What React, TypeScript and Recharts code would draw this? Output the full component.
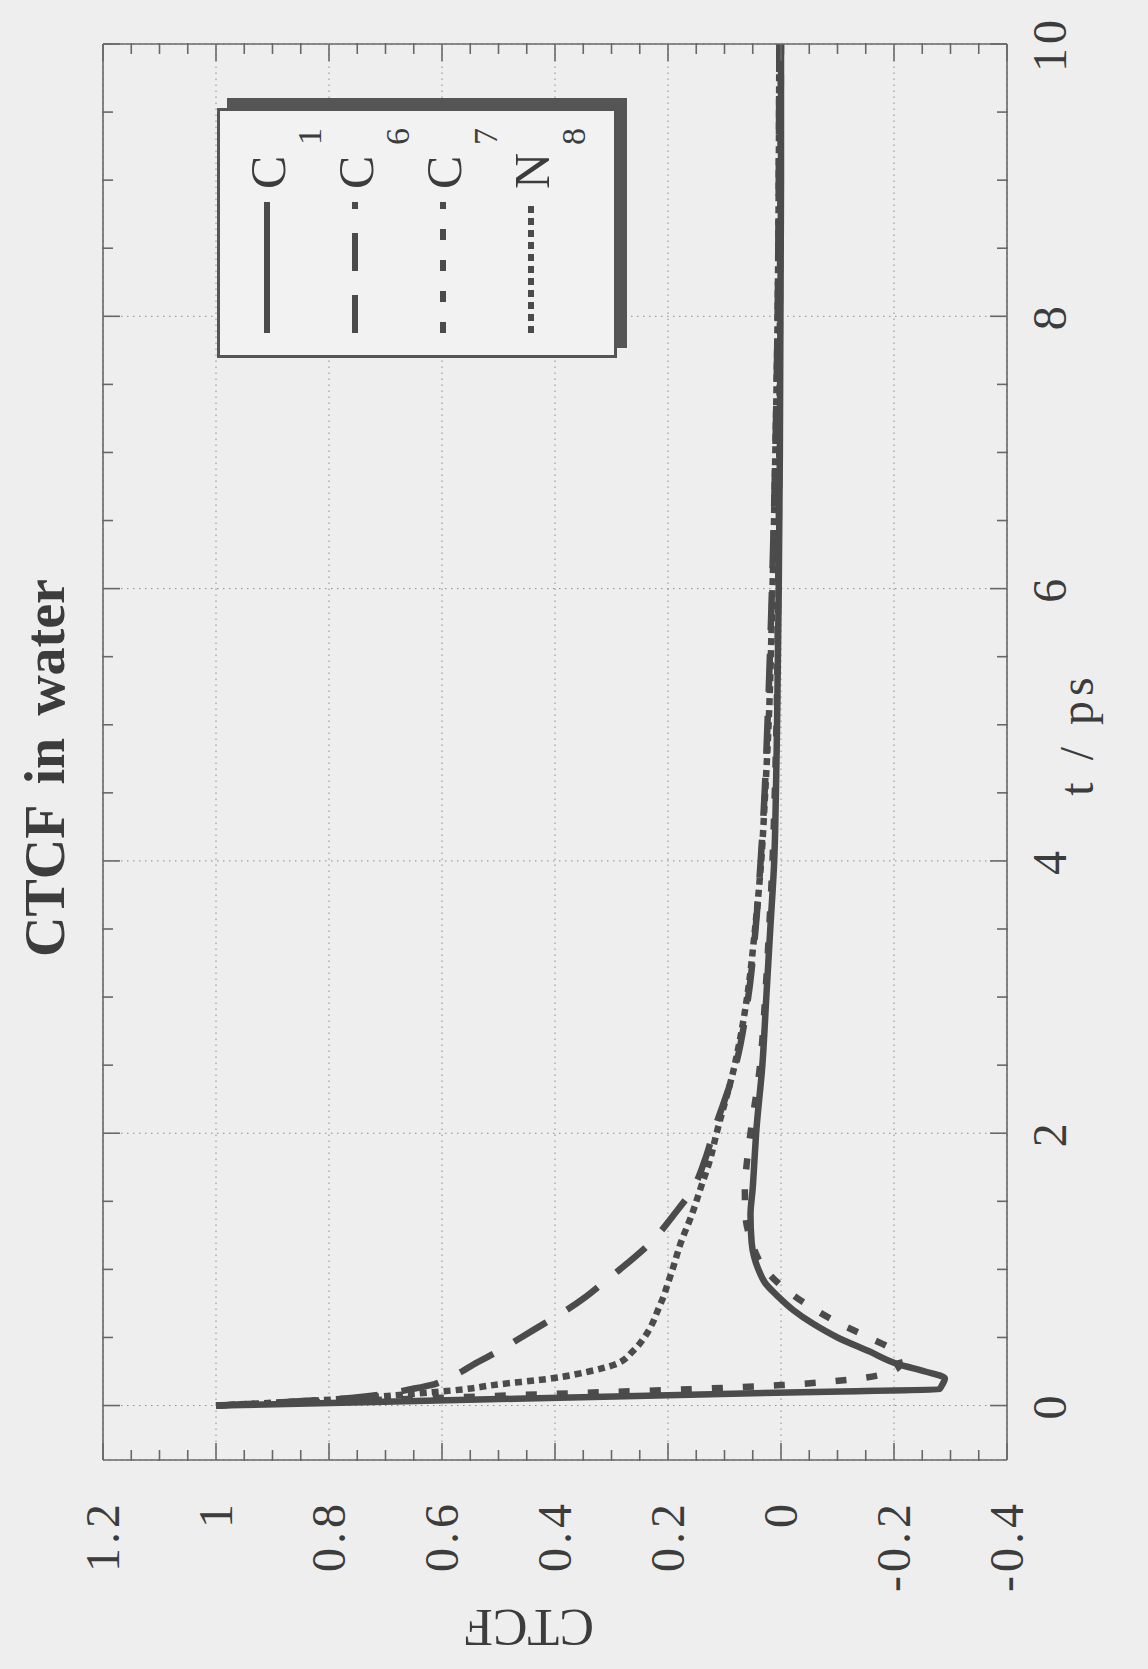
import { CartesianGrid, Legend, Line, LineChart, XAxis, YAxis } from 'recharts'

// correlation time samples (ps)
const times = [0, 0.05, 0.1, 0.12, 0.15, 0.2, 0.25, 0.3, 0.4, 0.5, 0.6, 0.7, 0.8, 0.9, 1.0, 1.2, 1.4, 1.6, 1.8, 2.0, 2.5, 3, 3.5, 4, 4.5, 5, 6, 7, 8, 9, 10]

const c1 = [1, 0.47, -0.06, -0.28, -0.285, -0.29, -0.255, -0.21, -0.155, -0.1, -0.057, -0.022, 0.005, 0.028, 0.04, 0.052, 0.054, 0.05, 0.047, 0.044, 0.033, 0.026, 0.019, 0.012, 0.009, 0.007, 0.004, 0.002, 0.001, 0, 0]
const c6 = [1, 0.78, 0.68, 0.655, 0.62, 0.59, 0.565, 0.545, 0.5, 0.46, 0.42, 0.38, 0.345, 0.315, 0.285, 0.23, 0.19, 0.155, 0.135, 0.12, 0.08, 0.058, 0.045, 0.036, 0.029, 0.024, 0.016, 0.01, 0.006, 0.004, 0.003]
const c7 = [1, 0.65, 0.3, 0.16, 0.0, -0.14, -0.195, -0.21, -0.2, -0.155, -0.105, -0.062, -0.025, 0.005, 0.028, 0.052, 0.063, 0.064, 0.06, 0.054, 0.037, 0.028, 0.021, 0.015, 0.011, 0.008, 0.005, 0.003, 0.002, 0.001, 0]
const n8 = [1, 0.77, 0.61, 0.56, 0.51, 0.405, 0.34, 0.295, 0.262, 0.242, 0.228, 0.218, 0.208, 0.2, 0.192, 0.177, 0.158, 0.142, 0.126, 0.114, 0.082, 0.06, 0.046, 0.035, 0.028, 0.022, 0.015, 0.01, 0.006, 0.004, 0.003]

const tMajorTicks = [0, 2, 4, 6, 8, 10]
const tMinorTicks = [0.5, 1, 1.5, 2.5, 3, 3.5, 4.5, 5, 5.5, 6.5, 7, 7.5, 8.5, 9, 9.5]
const valueMajorTicks = [-0.4, -0.2, 0, 0.2, 0.4, 0.6, 0.8, 1, 1.2]
const valueMinorTicks = [-0.35, -0.3, -0.25, -0.15, -0.1, -0.05, 0.05, 0.1, 0.15, 0.25, 0.3, 0.35, 0.45, 0.5, 0.55, 0.65, 0.7, 0.75, 0.85, 0.9, 0.95, 1.05, 1.1, 1.15]

const series = [
  { key: 'c1', letter: 'C', sub: '1', dash: undefined as string | undefined },
  { key: 'c6', letter: 'C', sub: '6', dash: '38 24' },
  { key: 'c7', letter: 'C', sub: '7', dash: '11 20' },
  { key: 'n8', letter: 'N', sub: '8', dash: '7 5' },
]

const chartData = times.map((t, i) => ({ t, c1: c1[i], c6: c6[i], c7: c7[i], n8: n8[i] }))

// the plot is laid out sideways and turned a quarter turn on the page
const W = 1669
const H = 1148
const INK = '#4b4b4b'
const FRAME = '#686868'
const TEXT = '#3c3c3c'
const FONT = '"Liberation Serif", "DejaVu Serif", serif'
const T_DOMAIN: [number, number] = [-0.4, 10]
const V_DOMAIN: [number, number] = [-0.4, 1.2]
const MAJOR = 17
const MINOR = 10

type Side = 'bottom' | 'top' | 'left' | 'right'

// tick marks point into the frame; labels only on bottom and left
function makeTick(side: Side, len: number, label: boolean) {
  return (props: any) => {
    const { x, y, payload } = props
    let x2 = x
    let y2 = y
    if (side === 'bottom') y2 = y - len
    if (side === 'top') y2 = y + len
    if (side === 'left') x2 = x + len
    if (side === 'right') x2 = x - len
    return (
      <g>
        <line x1={x} y1={y} x2={x2} y2={y2} stroke={FRAME} strokeWidth={1.6} />
        {label && side === 'bottom' && (
          <text x={x} y={y + 59} textAnchor="middle" fontSize={48} fill={TEXT} fontFamily="Liberation Serif" letterSpacing={4}>
            {payload.value}
          </text>
        )}
        {label && side === 'left' && (
          <text x={x - 40} y={y} dy="0.34em" textAnchor="end" fontSize={48} fill={TEXT} fontFamily="Liberation Serif" letterSpacing={4}>
            {payload.value}
          </text>
        )}
      </g>
    )
  }
}

function LegendBox() {
  return (
    <div
      style={{
        width: 250,
        height: 400,
        boxSizing: 'border-box',
        border: '3px solid #555',
        background: '#f2f2f2',
        boxShadow: '10px 10px 0 #555',
      }}
    >
      <svg width={244} height={394} fontFamily="Liberation Serif">
        {series.map((s, i) => {
          const y = 47 + i * 88
          return (
            <g key={s.key}>
              <line x1={22} x2={153} y1={y} y2={y} stroke={INK} strokeWidth={6} strokeDasharray={s.dash} />
              <text x={166} y={y + 18} fontSize={50} fill={TEXT}>
                {s.letter}
              </text>
              <text x={210} y={y + 54} fontSize={34} fill={TEXT}>
                {s.sub}
              </text>
            </g>
          )
        })}
      </svg>
    </div>
  )
}

const frameLine = { stroke: FRAME, strokeWidth: 1.6 }

export default function App() {
  return (
    <div style={{ position: 'absolute', left: 0, top: 0, width: 1148, height: 1669, background: '#eeeeee', overflow: 'hidden' }}>
      <div
        style={{
          position: 'absolute',
          left: 0,
          top: 0,
          width: W,
          height: H,
          transformOrigin: '0 0',
          transform: `translate(0px, ${W}px) rotate(-90deg)`,
          fontFamily: FONT,
        }}
      >
        <LineChart width={W} height={H} data={chartData} margin={{ top: 101, right: 42, bottom: 139, left: 207 }}>
          <CartesianGrid xAxisId="b" yAxisId="l" stroke="#8c8c8c" strokeDasharray="1.5 4.5" />

          <XAxis xAxisId="b" orientation="bottom" type="number" dataKey="t" domain={T_DOMAIN} allowDataOverflow
            height={1} ticks={tMajorTicks} interval={0} tickSize={0} tickMargin={0} tickLine={false}
            axisLine={frameLine} tick={makeTick('bottom', MAJOR, true)} />
          <XAxis xAxisId="bm" orientation="bottom" type="number" dataKey="t" domain={T_DOMAIN} allowDataOverflow
            height={1} ticks={tMinorTicks} interval={0} tickSize={0} tickMargin={0} tickLine={false}
            axisLine={false} tick={makeTick('bottom', MINOR + 1, false)} />
          <XAxis xAxisId="t" orientation="top" type="number" dataKey="t" domain={T_DOMAIN} allowDataOverflow
            height={1} ticks={tMajorTicks} interval={0} tickSize={0} tickMargin={0} tickLine={false}
            axisLine={frameLine} tick={makeTick('top', MAJOR, false)} />
          <XAxis xAxisId="tm" orientation="top" type="number" dataKey="t" domain={T_DOMAIN} allowDataOverflow
            height={1} ticks={tMinorTicks} interval={0} tickSize={0} tickMargin={0} tickLine={false}
            axisLine={false} tick={makeTick('top', MINOR + 1, false)} />

          <YAxis yAxisId="l" orientation="left" type="number" domain={V_DOMAIN} allowDataOverflow
            width={1} ticks={valueMajorTicks} interval={0} tickSize={0} tickMargin={0} tickLine={false}
            axisLine={frameLine} tick={makeTick('left', MAJOR, true)} />
          <YAxis yAxisId="lm" orientation="left" type="number" domain={V_DOMAIN} allowDataOverflow
            width={1} ticks={valueMinorTicks} interval={0} tickSize={0} tickMargin={0} tickLine={false}
            axisLine={false} tick={makeTick('left', MINOR + 1, false)} />
          <YAxis yAxisId="r" orientation="right" type="number" domain={V_DOMAIN} allowDataOverflow
            width={1} ticks={valueMajorTicks} interval={0} tickSize={0} tickMargin={0} tickLine={false}
            axisLine={frameLine} tick={makeTick('right', MAJOR, false)} />
          <YAxis yAxisId="rm" orientation="right" type="number" domain={V_DOMAIN} allowDataOverflow
            width={1} ticks={valueMinorTicks} interval={0} tickSize={0} tickMargin={0} tickLine={false}
            axisLine={false} tick={makeTick('right', MINOR + 1, false)} />

          <Legend
            layout="vertical"
            align="center"
            verticalAlign="middle"
            wrapperStyle={{ left: 1311, top: 217, width: 250, height: 400 }}
            content={() => <LegendBox />}
          />

          {[...series].reverse().map((s) => (
            <Line
              key={s.key}
              xAxisId="b"
              yAxisId="l"
              type="monotone"
              dataKey={s.key}
              stroke={INK}
              strokeWidth={6.5}
              strokeDasharray={s.dash}
              dot={false}
              activeDot={false}
              isAnimationActive={false}
            />
          ))}
        </LineChart>

        <svg width={W} height={H} fontFamily="Liberation Serif" style={{ position: 'absolute', left: 0, top: 0, pointerEvents: 'none' }}>
          <text x={901} y={64} textAnchor="middle" fontSize={56} fontWeight="bold" fill={TEXT} wordSpacing={8}>
            CTCF in water
          </text>
          <text x={935} y={1093} textAnchor="middle" fontSize={48} fill={TEXT} letterSpacing={5}>
            t / ps
          </text>
          <text transform="translate(59,529) rotate(-90)" textAnchor="middle" fontSize={52} fill={TEXT}>
            CTCF
          </text>
        </svg>
      </div>
    </div>
  )
}
